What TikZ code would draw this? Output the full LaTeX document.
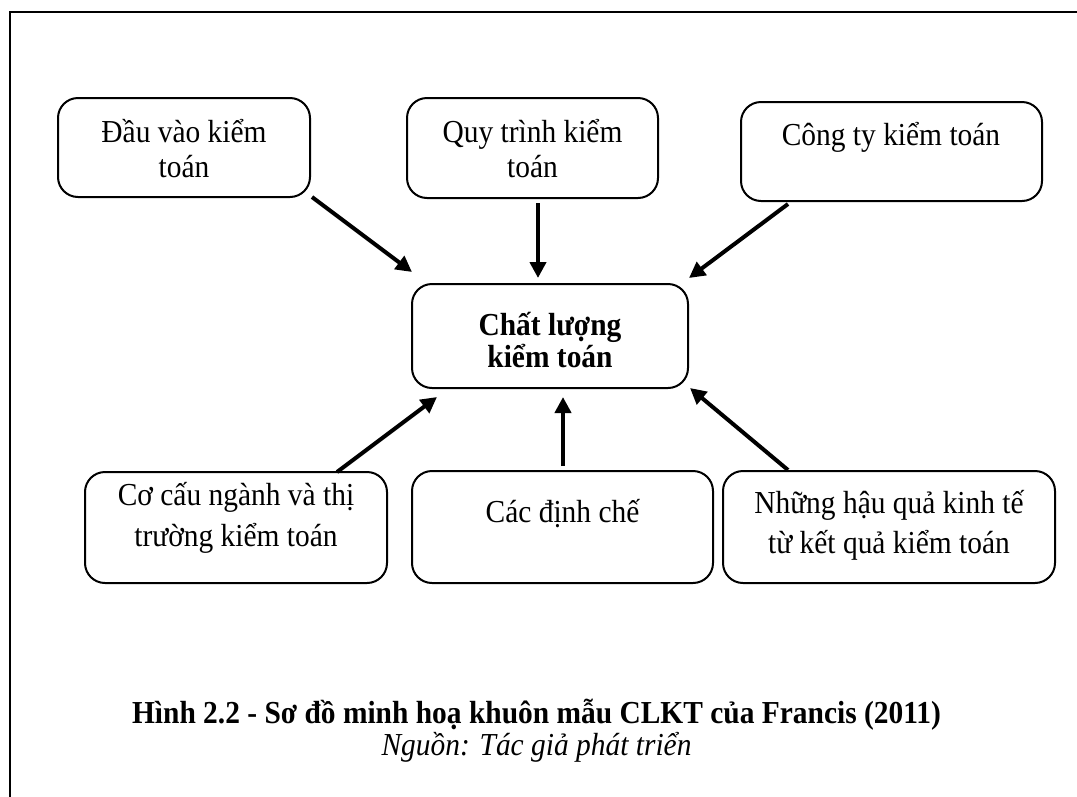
\documentclass[tikz,border=0pt]{standalone}
\usepackage{fontspec}
\setmainfont{Liberation Serif}[FakeStretch=0.92]
\usetikzlibrary{arrows.meta}
\begin{document}
\begin{tikzpicture}[x=1pt,y=-1pt,
  box/.style={draw, line width=2pt, rounded corners=20pt, inner sep=0pt},
  txt/.style={anchor=base, inner sep=0pt, font=\fontsize{32}{36}\selectfont},
  btxt/.style={txt, font=\fontsize{32}{36}\selectfont\bfseries},
  arr/.style={line width=4pt, -{Triangle[length=16pt,width=16pt]}}]
\useasboundingbox (0,0) rectangle (1077,796);
% frame (top and left edges)
\draw[line width=2pt] (10,800) -- (10,12) -- (1080,12);

% boxes
\node[box, minimum width=252pt, minimum height=99pt] (b1) at (184,147.5) {};
\node[box, minimum width=251pt, minimum height=100pt] (b2) at (532.5,148) {};
\node[box, minimum width=301pt, minimum height=99pt] (b3) at (891.5,151.5) {};
\node[box, minimum width=276pt, minimum height=104pt] (c) at (550,336) {};
\node[box, minimum width=302pt, minimum height=111pt] (b4) at (236,527.5) {};
\node[box, minimum width=301pt, minimum height=112pt] (b5) at (562.5,527) {};
\node[box, minimum width=332pt, minimum height=112pt] (b6) at (889,527) {};

% box texts
\node[txt] (t1a) at (184,142) {Đầu vào kiểm};
\node[txt] (t1b) at (184,177) {toán};
\node[txt] (t2a) at (532.5,142) {Quy trình kiểm};
\node[txt] (t2b) at (532.5,177) {toán};
\node[txt] (t3) at (891,145) {Công ty kiểm toán};
\node[btxt] (tca) at (550,335) {Chất lượng};
\node[btxt] (tcb) at (550,367) {kiểm toán};
\node[txt] (t4a) at (236,505) {Cơ cấu ngành và thị};
\node[txt] (t4b) at (236,546) {trường kiểm toán};
\node[txt] (t5) at (562.5,522) {Các định chế};
\node[txt] (t6a) at (889,513) {Những hậu quả kinh tế};
\node[txt] (t6b) at (889,553) {từ kết quả kiểm toán};

% arrow end points
\coordinate (s1) at (312,197);  \coordinate (e1) at (412,272);
\coordinate (s2) at (538,203);  \coordinate (e2) at (538,278);
\coordinate (s3) at (788,204);  \coordinate (e3) at (689,278);
\coordinate (s4) at (337,472);  \coordinate (e4) at (437,397);
\coordinate (s5) at (563,466);  \coordinate (e5) at (563,397);
\coordinate (s6) at (788,470);  \coordinate (e6) at (690,388);

\draw[arr] (s1) -- (e1);
\draw[arr] (s2) -- (e2);
\draw[arr] (s3) -- (e3);
\draw[arr] (s4) -- (e4);
\draw[arr] (s5) -- (e5);
\draw[arr] (s6) -- (e6);

% caption
\node[btxt] (cap) at (536.5,723) {Hình 2.2 - Sơ đồ minh hoạ khuôn mẫu CLKT của Francis (2011)};
\node[txt, font=\fontsize{32}{36}\selectfont\itshape] (src) at (536.5,755) {Nguồn: Tác giả phát triển};
\end{tikzpicture}
\end{document}
